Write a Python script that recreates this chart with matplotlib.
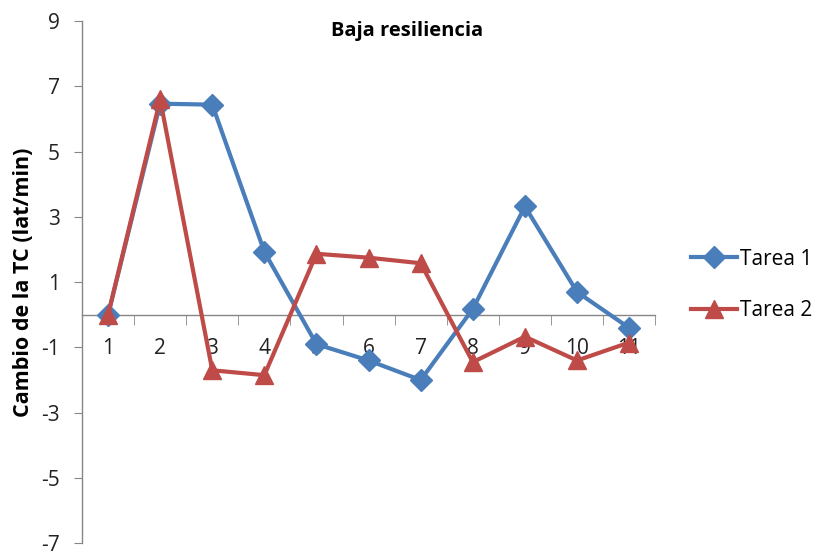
import matplotlib.pyplot as plt
from matplotlib.ticker import FixedLocator

plt.rcParams['font.family'] = ['Open Sans', 'DejaVu Sans']
plt.rcParams['axes.unicode_minus'] = False

# Heart-rate change per stage, low-resilience group
etapas = [1, 2, 3, 4, 5, 6, 7, 8, 9, 10, 11]
tarea1 = [0.0, 6.47, 6.44, 1.93, -0.9, -1.4, -2.0, 0.18, 3.32, 0.7, -0.4]
tarea2 = [0.0, 6.6, -1.7, -1.85, 1.87, 1.75, 1.58, -1.45, -0.67, -1.4, -0.85]
yticks = [9, 7, 5, 3, 1, -1, -3, -5, -7]

fig = plt.figure(figsize=(8.2, 5.56), dpi=100)
ax = fig.add_axes([0.1, 0.023, 0.699, 0.939])

ax.plot(etapas, tarea1, color='#4A7EBB', marker='D', markersize=11,
        linewidth=3, label='Tarea 1', zorder=3)
ax.plot(etapas, tarea2, color='#BE4B48', marker='^', markersize=13,
        linewidth=3, label='Tarea 2', zorder=3)

ax.set_xlim(0.5, 11.5)
ax.set_ylim(-7, 9)
ax.set_yticks(yticks)

# category labels hang below the zero line, tick marks sit between categories
ax.set_xticks(etapas)
ax.xaxis.set_minor_locator(FixedLocator([i + 0.5 for i in range(0, 12)]))
ax.tick_params(axis='x', which='major', length=0, pad=17, labelsize=15,
               colors='#222222')
ax.tick_params(axis='x', which='minor', length=7, color='#868686')
ax.tick_params(axis='y', length=6, labelsize=15, colors='#222222', pad=10)
ax.tick_params(axis='y', color='#868686')

ax.spines['bottom'].set_position(('data', 0))
for s in ['top', 'right']:
    ax.spines[s].set_visible(False)
for s in ['left', 'bottom']:
    ax.spines[s].set_color('#868686')
    ax.spines[s].set_linewidth(1)

ax.set_ylabel('Cambio de la TC (lat/min)', fontsize=15.5, fontweight='bold')
ax.yaxis.set_label_coords(-0.083, 0.5)

fig.text(0.496, 0.945, 'Baja resiliencia', fontsize=14.5, fontweight='bold',
         ha='center', va='center')

ax.legend(loc='center left', bbox_to_anchor=(1.03, 0.495), frameon=False,
          fontsize=15, handlelength=2.2, handletextpad=0.15,
          labelspacing=1.45)

fig.savefig('out.png', dpi=100)
